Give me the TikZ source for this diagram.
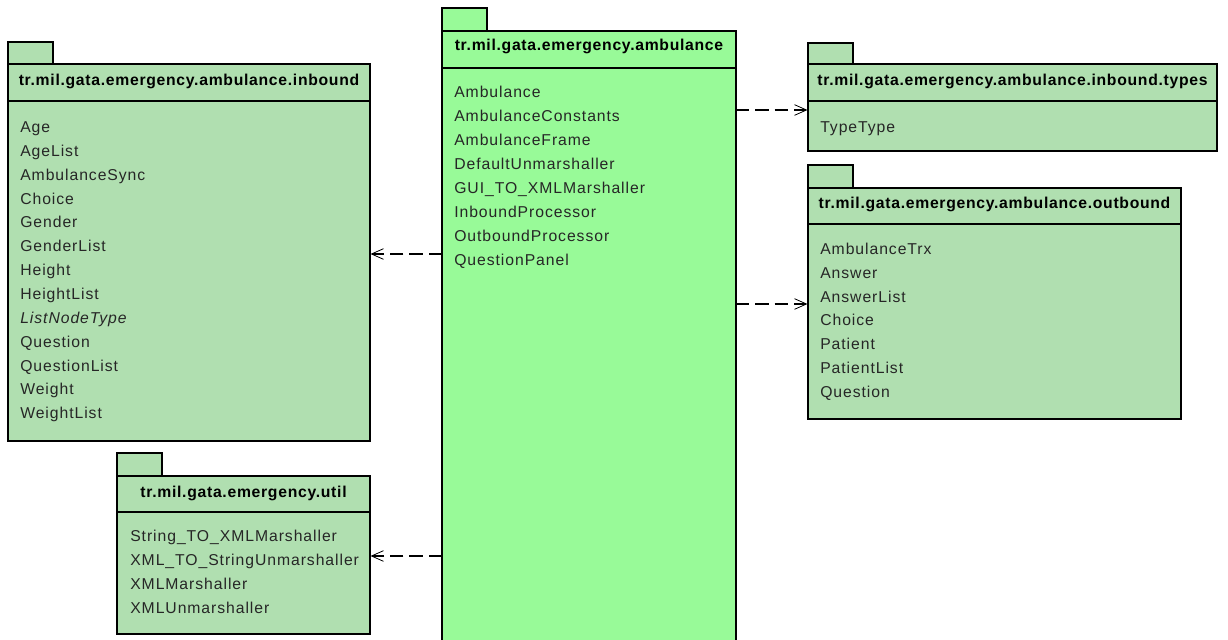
\documentclass[tikz,border=0pt]{standalone}
\usepackage{fontspec}
\setmainfont{Liberation Sans}[LetterSpace=6, BoldFeatures={LetterSpace=4.5}]
\usetikzlibrary{arrows.meta,fit}
\definecolor{pkgpale}{RGB}{176,223,176}
\definecolor{pkgmain}{RGB}{152,250,152}
\tikzset{
  pkgbox/.style={draw=black, line width=0.8pt, inner sep=0pt, fill=pkgpale},
  pkgrule/.style={draw=black, line width=0.8pt},
  hdr/.style={anchor=base, inner sep=0pt, font=\fontsize{11.8pt}{14pt}\selectfont\bfseries},
  item/.style={anchor=base west, inner sep=0pt, font=\fontsize{11.8pt}{14pt}\selectfont, text=black!85},
  dep/.style={draw=black, line width=1.2pt, dash pattern=on 10pt off 4.5pt,
    -{Straight Barb[length=9pt,width=8pt,line width=0.6pt]}}
}
\begin{document}
\begin{tikzpicture}[x=0.75pt,y=-0.75pt]
\useasboundingbox (0,0) rectangle (1228,639);
\clip (0,0) rectangle (1228,639);

% ---- tr.mil.gata.emergency.ambulance (central package) ----
\node[pkgbox, fill=pkgmain, fit={(442,8) (487,31)}] (ambtab) {};
\node[pkgbox, fill=pkgmain, fit={(442,31) (736,660)}] (amb) {};
\draw[pkgrule] (amb.west |- 0,68) -- (amb.east |- 0,68);
\node[hdr] (ambh) at (589,50.5) {tr.mil.gata.emergency.ambulance};
\foreach \t [count=\i from 0] in {Ambulance, AmbulanceConstants, AmbulanceFrame,
    DefaultUnmarshaller, GUI\_TO\_XMLMarshaller, InboundProcessor,
    OutboundProcessor, QuestionPanel}
  \node[item] (amb-\i) at (454, 97+24*\i) {\t};

% ---- tr.mil.gata.emergency.ambulance.inbound ----
\node[pkgbox, fit={(8,42) (53,64)}] (inbtab) {};
\node[pkgbox, fit={(8,64) (370,441)}] (inb) {};
\draw[pkgrule] (inb.west |- 0,101) -- (inb.east |- 0,101);
\node[hdr] (inbh) at (189,85) {tr.mil.gata.emergency.ambulance.inbound};
\foreach \t [count=\i from 0] in {Age, AgeList, AmbulanceSync, Choice, Gender,
    GenderList, Height, HeightList, \textit{ListNodeType}, Question,
    QuestionList, Weight, WeightList}
  \node[item] (inb-\i) at (20, 132.5+23.85*\i) {\t};

% ---- tr.mil.gata.emergency.util ----
\node[pkgbox, fit={(117,453) (162,476)}] (utiltab) {};
\node[pkgbox, fit={(117,476) (370,634)}] (util) {};
\draw[pkgrule] (util.west |- 0,512) -- (util.east |- 0,512);
\node[hdr] (utilh) at (243.5,497) {tr.mil.gata.emergency.util};
\foreach \t [count=\i from 0] in {String\_TO\_XMLMarshaller,
    XML\_TO\_StringUnmarshaller, XMLMarshaller, XMLUnmarshaller}
  \node[item] (util-\i) at (130, 541.5+24*\i) {\t};

% ---- tr.mil.gata.emergency.ambulance.inbound.types ----
\node[pkgbox, fit={(808,43) (853,64)}] (typtab) {};
\node[pkgbox, fit={(808,64) (1217,151)}] (typ) {};
\draw[pkgrule] (typ.west |- 0,101) -- (typ.east |- 0,101);
\node[hdr] (typh) at (1012.5,85) {tr.mil.gata.emergency.ambulance.inbound.types};
\node[item] (typ-0) at (820,132.5) {TypeType};

% ---- tr.mil.gata.emergency.ambulance.outbound ----
\node[pkgbox, fit={(808,165) (853,188)}] (outtab) {};
\node[pkgbox, fit={(808,188) (1181,419)}] (out) {};
\draw[pkgrule] (out.west |- 0,224) -- (out.east |- 0,224);
\node[hdr] (outh) at (994.5,208) {tr.mil.gata.emergency.ambulance.outbound};
\foreach \t [count=\i from 0] in {AmbulanceTrx, Answer, AnswerList, Choice,
    Patient, PatientList, Question}
  \node[item] (out-\i) at (820, 254.5+23.8*\i) {\t};

% ---- dependencies ----
\coordinate (d1) at (442,254);
\coordinate (d2) at (442,556);
\coordinate (d3) at (736,110);
\coordinate (d4) at (736,304);
\draw[dep] (d1) -- (inb.east |- d1);
\draw[dep] (d2) -- (util.east |- d2);
\draw[dep] (d3) -- (typ.west |- d3);
\draw[dep] (d4) -- (out.west |- d4);
\end{tikzpicture}
\end{document}
